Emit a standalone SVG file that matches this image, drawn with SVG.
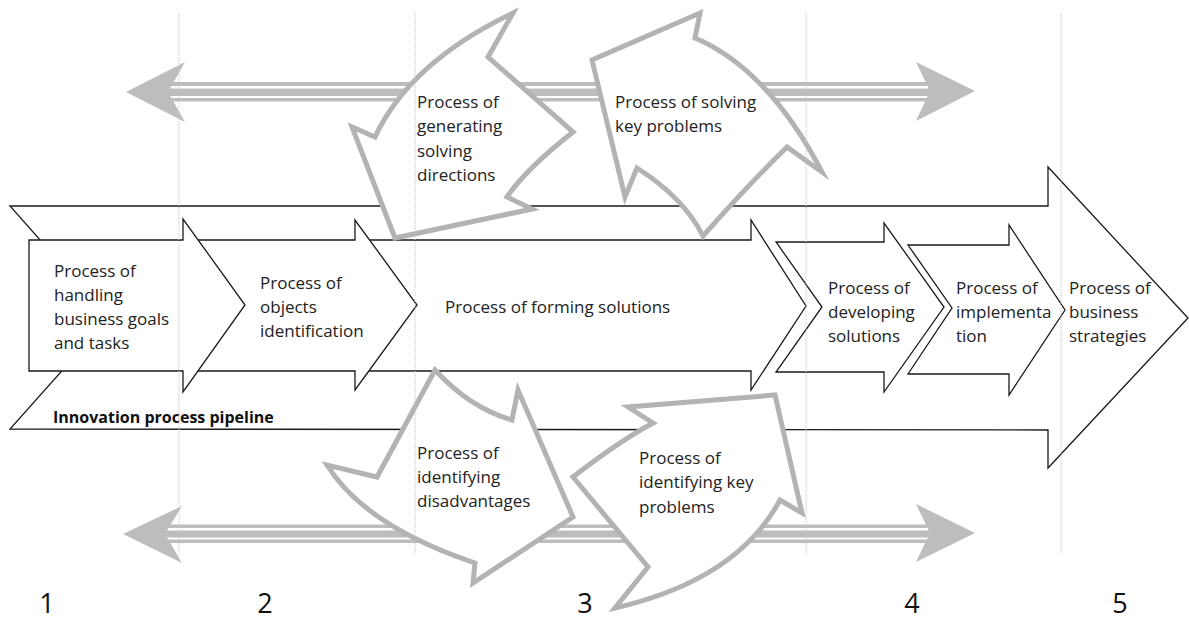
<svg xmlns="http://www.w3.org/2000/svg" width="1189" height="619" viewBox="0 0 1189 619">
<style>
.blk{fill:#fff;stroke:#1a1a1a;stroke-width:1.3;stroke-linejoin:miter}
.cur{fill:#fff;stroke:#b3b3b3;stroke-width:5;stroke-linejoin:miter;stroke-miterlimit:6}
.dbl{fill:#bdbdbd}
.t{font-family:"Open Sans","Liberation Sans",sans-serif;font-size:17px;fill:#222}
.b{font-family:"Open Sans","Liberation Sans",sans-serif;font-size:16px;font-weight:bold;fill:#111}
.n{font-family:"Open Sans","Liberation Sans",sans-serif;font-size:27px;fill:#111;text-anchor:middle}
.dot{stroke:#c4c4c4;stroke-width:1;stroke-dasharray:1 1;fill:none}
</style>
<rect width="1189" height="619" fill="#fff"/>

<g id="pipeline">
<polygon class="blk" points="10,206 1048,206 1048,167 1188,318 1048,468 1048,430 10,429 109,318"/>
<text class="b" x="53" y="423">Innovation process pipeline</text>
</g>

<g id="node3">
<polygon class="blk" points="355,240 751,240 751,220 806,306 751,390 751,371 355,371"/>
<text class="t" x="445" y="313">Process of forming solutions</text>
</g>
<g id="node2">
<polygon class="blk" points="183,240 355,240 355,220 417,305 355,390 355,371 183,371"/>
<text class="t" x="260"><tspan x="260" y="289">Process of</tspan><tspan x="260" y="313">objects</tspan><tspan x="260" y="337">identification</tspan></text>
</g>
<g id="node1">
<polygon class="blk" points="29,240 183,240 183,219 245,305 183,392 183,371 29,371"/>
<text class="t"><tspan x="54" y="277">Process of</tspan><tspan x="54" y="301">handling</tspan><tspan x="54" y="325">business goals</tspan><tspan x="54" y="349">and tasks</tspan></text>
</g>
<g id="node4">
<polygon class="blk" points="776,242 884,242 884,223 944,307 884,392 884,372 776,372 822,307"/>
<text class="t"><tspan x="828" y="294">Process of</tspan><tspan x="828" y="318">developing</tspan><tspan x="828" y="342">solutions</tspan></text>
</g>
<g id="node5">
<polygon class="blk" points="908,245 1009,245 1009,225 1065,310 1009,395 1009,374 908,374 952,308"/>
<text class="t"><tspan x="956" y="294">Process of</tspan><tspan x="956" y="318">implementa</tspan><tspan x="956" y="342">tion</tspan></text>
</g>
<g id="node6">
<text class="t"><tspan x="1069" y="294">Process of</tspan><tspan x="1069" y="318">business</tspan><tspan x="1069" y="342">strategies</tspan></text>
</g>

<g id="connectors">
<g id="top-double-arrow">
<polygon class="dbl" points="126,92 185,62 168,92 185,122"/>
<rect class="dbl" x="168" y="82" width="764" height="4"/>
<rect class="dbl" x="168" y="88.5" width="764" height="7.5"/>
<rect class="dbl" x="168" y="98" width="764" height="3.5"/>
<polygon class="dbl" points="975,91 916,62 930,91 916,121"/>
</g>
<g id="bottom-double-arrow">
<polygon class="dbl" points="123,534 182,506 165,534 182,563"/>
<rect class="dbl" x="165" y="524.5" width="767" height="3.5"/>
<rect class="dbl" x="165" y="530.5" width="767" height="7"/>
<rect class="dbl" x="165" y="539.5" width="767" height="3.5"/>
<polygon class="dbl" points="975,533 916,504 930,533 916,562"/>
</g>
</g>

<g id="curvedA">
<path class="cur" d="M513,13 L488,57 L573,132 Q525,170 507,197 L532,209 L395,238 L352,127 L375,137 Q410,62 513,13 Z"/>
<text class="t"><tspan x="417" y="108">Process of</tspan><tspan x="417" y="132">generating</tspan><tspan x="417" y="157">solving</tspan><tspan x="417" y="181">directions</tspan></text>
</g>
<g id="curvedB">
<path class="cur" d="M700,13 L592,60 L625,197 L637,168 Q684,198 703,236 Q748,185 787,147 L822,172 Q768,69 695,38 Z"/>
<text class="t"><tspan x="615" y="108">Process of solving</tspan><tspan x="615" y="132">key problems</tspan></text>
</g>
<g id="curvedC">
<path class="cur" d="M435,370 Q470,408 512,420 L518,390 L573,517 L473,583 L475,563 Q365,526 327,465 L377,477 Z"/>
<text class="t"><tspan x="417" y="459">Process of</tspan><tspan x="417" y="483">identifying</tspan><tspan x="417" y="507">disadvantages</tspan></text>
</g>
<g id="curvedD">
<path class="cur" d="M628,407 L653,423 Q618,442 573,477 L648,567 L615,608 Q737,580 780,500 L802,513 L775,395 Z"/>
<text class="t"><tspan x="639" y="464">Process of</tspan><tspan x="639" y="488">identifying key</tspan><tspan x="639" y="513">problems</tspan></text>
</g>

<g id="grid">
<line class="dot" x1="179" y1="13" x2="179" y2="555"/>
<line class="dot" x1="415" y1="13" x2="415" y2="555"/>
<line class="dot" x1="806" y1="13" x2="806" y2="555"/>
<line class="dot" x1="1061" y1="13" x2="1061" y2="555"/>
</g>

<g id="numbers">
<text class="n" x="47" y="613">1</text>
<text class="n" x="265" y="613">2</text>
<text class="n" x="585" y="613">3</text>
<text class="n" x="912" y="613">4</text>
<text class="n" x="1120" y="613">5</text>
</g>
</svg>
